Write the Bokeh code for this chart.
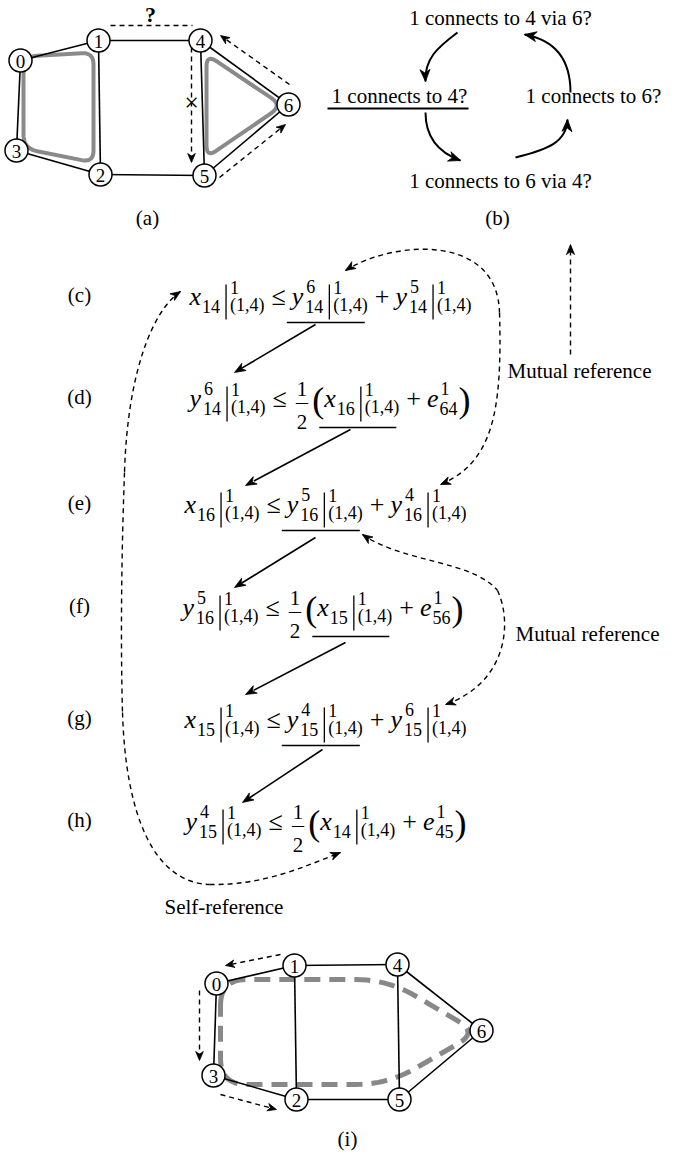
import numpy as np
from bokeh.plotting import figure
from bokeh.models import Range1d, ColumnDataSource
from bokeh.core.properties import value
from bokeh.embed import file_html
from bokeh.resources import INLINE

FONT = "Liberation Serif"

# ---------------- graph data ----------------
NODE_IDS = ["0", "1", "2", "3", "4", "5", "6"]
NODE_X_A = [28, 106, 108, 24, 208, 212, 296]
NODE_Y_A = [68, 48, 182, 158, 48, 183, 112]
NODE_X_I = [224, 302, 304, 221, 405, 407, 489]
NODE_Y_I = [991, 973, 1107, 1083, 972, 1107, 1038]
EDGES = [(0, 1), (1, 4), (4, 6), (6, 5), (5, 2), (2, 3), (3, 0), (1, 2), (4, 5)]
NODE_R = 11.5

# gray loops (corner vertices, corner radii)
LOOP_A_LEFT_X = [31, 101, 101, 31]
LOOP_A_LEFT_Y = [64, 60, 170, 156]
LOOP_A_LEFT_R = [14, 12, 12, 14]
LOOP_A_RIGHT_X = [214, 290, 214]
LOOP_A_RIGHT_Y = [62, 113, 165]
LOOP_A_RIGHT_R = [12, 14, 12]
LOOP_I_X = [228, 395, 485, 395, 228]
LOOP_I_Y = [987, 987, 1040, 1092, 1092]
LOOP_I_R = [26, 32, 22, 32, 26]

# dashed arrows of the graphs: (x_from, y_from, x_tip, y_tip, has_head)
DASH_A = [(118, 33, 200, 33, 0), (199, 55, 199, 170, 1), (297, 92, 228, 43, 1), (227, 185, 293, 132, 1)]
DASH_I = [(288, 962, 233, 973, 1), (207, 998, 207, 1068, 1), (228, 1102, 284, 1117, 1)]

# ---------------- panel (b) ----------------
B_TEXT = ["1 connects to 4 via 6?", "1 connects to 4?", "1 connects to 6?", "1 connects to 6 via 4?"]
B_TX = [508, 407, 601, 508]
B_TY = [32, 110, 110, 195]
# bezier arrows: x0, y0, cx0, cy0, cx1, cy1, x1, y1 (head at x1,y1)
B_ARROWS = [(465, 40, 445, 55, 432, 66, 433, 89),
            (433, 120, 433, 145, 446, 160, 468, 168),
            (523, 165, 555, 157, 574, 150, 575, 127),
            (578, 100, 578, 70, 565, 48, 532, 42)]

# ---------------- equations ----------------
EQ_LABELS = ["(c)", "(d)", "(e)", "(f)", "(g)", "(h)"]
EQ_BASE = [313, 415, 521, 624, 736, 838]
EQ_X0 = [197, 197, 192, 190, 192, 193]
EQ_TOKENS = [
    [("v", "x", "", "14"), ("bar",), ("op", "≤"), ("v", "y", "6", "14"), ("bar",), ("op", "+"), ("v", "y", "5", "14"), ("bar",)],
    [("v", "y", "6", "14"), ("bar",), ("op", "≤"), ("frac", "1", "2"), ("lp",), ("v", "x", "", "16"), ("bar",), ("op", "+"), ("v", "e", "1", "64"), ("rp",)],
    [("v", "x", "", "16"), ("bar",), ("op", "≤"), ("v", "y", "5", "16"), ("bar",), ("op", "+"), ("v", "y", "4", "16"), ("bar",)],
    [("v", "y", "5", "16"), ("bar",), ("op", "≤"), ("frac", "1", "2"), ("lp",), ("v", "x", "", "15"), ("bar",), ("op", "+"), ("v", "e", "1", "56"), ("rp",)],
    [("v", "x", "", "15"), ("bar",), ("op", "≤"), ("v", "y", "4", "15"), ("bar",), ("op", "+"), ("v", "y", "6", "15"), ("bar",)],
    [("v", "y", "4", "15"), ("bar",), ("op", "≤"), ("frac", "1", "2"), ("lp",), ("v", "x", "", "14"), ("bar",), ("op", "+"), ("v", "e", "1", "45"), ("rp",)],
]
EQ_UNDERLINE = [(3, 4), (5, 6), (3, 4), (5, 6), (3, 4), None]
# solid chain arrows between rows: (x_from, y_from, x_tip, y_tip)
CHAIN = [(323, 332, 242, 380), (358, 437, 253, 493), (323, 545, 242, 595), (353, 650, 253, 702), (330, 757, 250, 810)]

# dashed reference curves (lists of bezier segments), heads at both ends
SELF_REF = [(188, 299, 160, 318, 135, 380, 132, 480),
            (132, 480, 129, 560, 128, 650, 130, 720),
            (130, 720, 133, 820, 160, 890, 217, 892),
            (217, 892, 270, 893, 310, 875, 348, 860)]
MUTUAL_1 = [(353, 278, 400, 248, 505, 240, 507, 320),
            (507, 320, 510, 420, 500, 470, 448, 492)]
MUTUAL_2 = [(370, 542, 410, 570, 480, 568, 505, 598),
            (505, 598, 520, 630, 515, 690, 453, 712)]
UP_ARROW = (578, 362, 578, 252)

LABELS = ["(a)", "(b)", "Mutual reference", "Mutual reference", "Self-reference", "(i)"]
LABEL_X = [155, 505, 515, 523, 172, 355]
LABEL_Y = [232, 232, 385, 648, 921, 1153]
LABEL_ALIGN = ["center", "center", "left", "left", "left", "center"]

# ---------------- helpers ----------------
W = {"0": .5, "1": .5, "2": .5, "3": .5, "4": .5, "5": .5, "6": .5, "7": .5, "8": .5, "9": .5,
     "(": .333, ")": .333, ",": .25, "+": .564, "≤": .549, "x": .444, "y": .444, "e": .444}
IC = {"x": 1, "y": 2, "e": 1}
M, S, B, F, P = 26, 18, 18, 21, 36
MID = 0.33   # distance from baseline to the middle of the em box (fraction of size)


def tw(s, size):
    return sum(W[c] for c in s) * size


texts = {"left": dict(x=[], y=[], text=[], size=[], style=[]),
         "center": dict(x=[], y=[], text=[], size=[], style=[])}


def put(x, y, s, size, style="normal", align="left"):
    d = texts[align]
    d["x"].append(x); d["y"].append(y - MID * size); d["text"].append(s)
    d["size"].append(f"{size}px"); d["style"].append(style)


seg = dict(x0=[], y0=[], x1=[], y1=[], w=[])


def line(x0, y0, x1, y1, w=1.3):
    seg["x0"].append(x0); seg["y0"].append(y0); seg["x1"].append(x1); seg["y1"].append(y1); seg["w"].append(w)


hx, hy = [], []


def head(tx, ty, fx, fy, L=10, Wd=4.2):
    dx, dy = tx - fx, ty - fy
    d = (dx * dx + dy * dy) ** .5
    ux, uy = dx / d, dy / d
    nx, ny = -uy, ux
    bx, by = tx - ux * L, ty - uy * L
    mx, my = tx - ux * L * 0.7, ty - uy * L * 0.7
    hx.append([tx, bx + nx * Wd, mx, bx - nx * Wd])
    hy.append([ty, by + ny * Wd, my, by - ny * Wd])


def layout(tokens, x0, b):
    cur = x0
    ext = []
    for t in tokens:
        st = cur
        k = t[0]
        if k == "v":
            put(cur, b, t[1], M, "italic")
            cur += W[t[1]] * M + IC[t[1]]
            ws = 0
            if t[2]:
                put(cur + 1, b - 13, t[2], S)
                ws = max(ws, tw(t[2], S) + 1)
            if t[3]:
                put(cur, b + 7, t[3], S)
                ws = max(ws, tw(t[3], S))
            cur += ws + 1
        elif k == "bar":
            cur += 5
            line(cur, b - 21, cur, b + 14, 1.3)
            cur += 4
            put(cur, b - 12, "1", B)
            put(cur, b + 5, "(1,4)", B)
            cur += tw("(1,4)", B)
        elif k == "op":
            cur += 7
            put(cur, b, t[1], M)
            cur += tw(t[1], M) + 6
        elif k == "frac":
            cur += 4
            w = max(tw(t[1], F), tw(t[2], F))
            put(cur + w / 2, b - 12, t[1], F, align="center")
            put(cur + w / 2, b + 21, t[2], F, align="center")
            line(cur - 1, b - 4, cur + w + 1, b - 4, 1.0)
            cur += w + 5
        elif k in ("lp", "rp"):
            put(cur, b + 4, "(" if k == "lp" else ")", P)
            cur += W["("] * P
        ext.append((st, cur))
    return ext


# ---------------- figure ----------------
p = figure(width=676, height=1152, x_range=Range1d(8, 684), y_range=Range1d(1160, 8),
           output_backend="svg", toolbar_location=None, min_border=0,
           x_axis_location=None, y_axis_location=None)
p.grid.visible = False
p.outline_line_color = None
p.background_fill_color = "white"


def rounded_path(vx, vy, rr, n=12):
    xs, ys = [], []
    N = len(vx)
    for i in range(N):
        Pp = np.array([vx[i], vy[i]], float)
        A = np.array([vx[i - 1], vy[i - 1]], float)
        C = np.array([vx[(i + 1) % N], vy[(i + 1) % N]], float)
        a = Pp + (A - Pp) / np.linalg.norm(A - Pp) * rr[i]
        c = Pp + (C - Pp) / np.linalg.norm(C - Pp) * rr[i]
        for t in np.linspace(0, 1, n):
            q = (1 - t) ** 2 * a + 2 * (1 - t) * t * Pp + t ** 2 * c
            xs.append(q[0]); ys.append(q[1])
    xs.append(xs[0]); ys.append(ys[0])
    return xs, ys


# gray loops
for vx, vy, rr in [(LOOP_A_LEFT_X, LOOP_A_LEFT_Y, LOOP_A_LEFT_R), (LOOP_A_RIGHT_X, LOOP_A_RIGHT_Y, LOOP_A_RIGHT_R)]:
    xs, ys = rounded_path(vx, vy, rr)
    p.line(xs, ys, line_color="#8a8a8a", line_width=4, line_join="round")
xs, ys = rounded_path(LOOP_I_X, LOOP_I_Y, LOOP_I_R)
p.line(xs, ys, line_color="#888888", line_width=5, line_dash="16 9")

# graph edges and nodes
for NX, NY in [(NODE_X_A, NODE_Y_A), (NODE_X_I, NODE_Y_I)]:
    p.segment(x0=[NX[a] for a, b in EDGES], y0=[NY[a] for a, b in EDGES],
              x1=[NX[b] for a, b in EDGES], y1=[NY[b] for a, b in EDGES],
              line_color="black", line_width=1.6)
    p.circle(x=NX, y=NY, radius=NODE_R, fill_color="white", line_color="black", line_width=1.5)
    p.text(x=NX, y=NY, text=NODE_IDS, text_font=value(FONT), text_font_size="19px",
           text_align="center", text_baseline="middle", text_color="black", y_offset=1)

# dashed arrows of graphs
for (x0, y0, x1, y1, hd) in DASH_A + DASH_I:
    if hd:
        dx, dy = x1 - x0, y1 - y0
        d = (dx * dx + dy * dy) ** .5
        ex, ey = x1 - dx / d * 6, y1 - dy / d * 6
        p.line([x0, ex], [y0, ey], line_color="black", line_width=1.4, line_dash="5 4")
        head(x1, y1, x0, y0, L=9, Wd=3.8)
    else:
        p.line([x0, x1], [y0, y1], line_color="black", line_width=1.4, line_dash="5 4")

put(158, 29, "?", 22, "bold", "center")
put(199, 119, "×", 26, "normal", "center")

# panel (b)
for s, x, y in zip(B_TEXT, B_TX, B_TY):
    put(x, y, s, 21, "normal", "center")
line(335, 116, 476, 116, 2.0)
for (x0, y0, cx0, cy0, cx1, cy1, x1, y1) in B_ARROWS:
    p.bezier(x0=[x0], y0=[y0], cx0=[cx0], cy0=[cy0], cx1=[cx1], cy1=[cy1], x1=[x1], y1=[y1],
             line_color="black", line_width=2)
    head(x1, y1, cx1, cy1, L=12, Wd=5)

# equations
for lab, b, x0, toks, ul in zip(EQ_LABELS, EQ_BASE, EQ_X0, EQ_TOKENS, EQ_UNDERLINE):
    put(87, b - 4, lab, 21, "normal", "center")
    ext = layout(toks, x0, b)
    if ul is not None:
        xa = ext[ul[0]][0] - 5
        xb = ext[ul[1]][1] - 3
        off = 20 if toks[3][0] == "frac" else 17
        line(xa, b + off, xb, b + off, 1.5)

for (x0, y0, x1, y1) in CHAIN:
    p.line([x0, x1 + (x0 - x1) * 0.08], [y0, y1 + (y0 - y1) * 0.08], line_color="black", line_width=1.6)
    head(x1, y1, x0, y0, L=11, Wd=4.2)

for curve in (SELF_REF, MUTUAL_1, MUTUAL_2):
    c = list(zip(*curve))
    p.bezier(x0=list(c[0]), y0=list(c[1]), cx0=list(c[2]), cy0=list(c[3]),
             cx1=list(c[4]), cy1=list(c[5]), x1=list(c[6]), y1=list(c[7]),
             line_color="black", line_width=1.4, line_dash="5 4")
    f = curve[0]
    head(f[0], f[1], f[2], f[3], L=10, Wd=4)
    l = curve[-1]
    head(l[6], l[7], l[4], l[5], L=10, Wd=4)

ux0, uy0, ux1, uy1 = UP_ARROW
p.line([ux0, ux1], [uy0, uy1 + 6], line_color="black", line_width=1.4, line_dash="5 4")
head(ux1, uy1, ux0, uy0, L=10, Wd=4)

for s, x, y, a in zip(LABELS, LABEL_X, LABEL_Y, LABEL_ALIGN):
    put(x, y, s, 21, "normal", a)

# draw segments, heads, texts
p.segment(x0="x0", y0="y0", x1="x1", y1="y1", line_width="w", line_color="black",
          source=ColumnDataSource(seg))
p.patches(xs=hx, ys=hy, fill_color="black", line_color="black", line_width=0.8)
for al in ("left", "center"):
    src = ColumnDataSource(texts[al])
    p.text(x="x", y="y", text="text", text_font_size="size", text_font_style="style",
           text_font=value(FONT), text_align=al, text_baseline="middle",
           text_color="black", source=src)

open("out.html", "w").write(file_html(p, INLINE))
